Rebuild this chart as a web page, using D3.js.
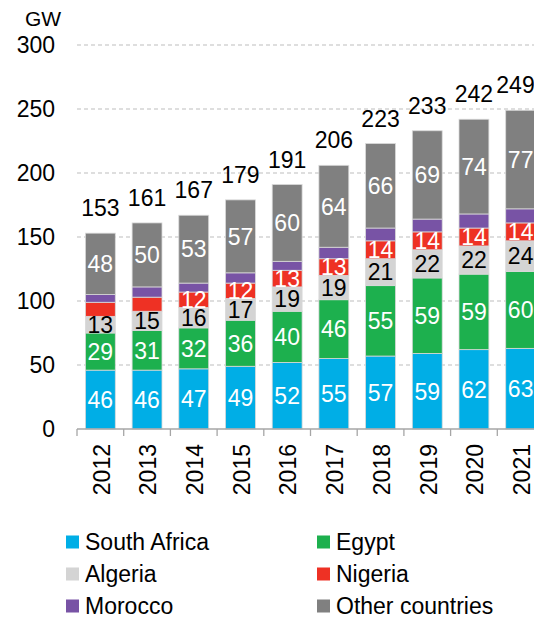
<!DOCTYPE html>
<html>
<head>
<meta charset="utf-8">
<script src="https://cdn.jsdelivr.net/npm/d3@7"></script>
<style>
  body { margin: 0; background: #fff; }
  svg { font-family: "Liberation Sans", Arial, sans-serif; display: block; }
</style>
</head>
<body>
<script>
var years        = ['2012','2013','2014','2015','2016','2017','2018','2019','2020','2021'];
var southAfrica  = [46, 46, 47, 49, 52, 55, 57, 59, 62, 63];
var egypt        = [29, 31, 32, 36, 40, 46, 55, 59, 59, 60];
var algeria      = [13, 15, 16, 17, 19, 19, 21, 22, 22, 24];
var nigeria      = [11, 11, 12, 12, 13, 13, 14, 14, 14, 14];
var morocco      = [6, 8, 7, 8, 7, 9, 10, 10, 11, 11];
var others       = [48, 50, 53, 57, 60, 64, 66, 69, 74, 77];
var totals       = [153, 161, 167, 179, 191, 206, 223, 233, 242, 249];
var yTicks       = [0, 50, 100, 150, 200, 250, 300];

var series = [
  {name: 'South Africa',    values: southAfrica, color: '#00aee6', text: '#fff', label: true},
  {name: 'Egypt',           values: egypt,       color: '#1db04e', text: '#fff', label: true},
  {name: 'Algeria',         values: algeria,     color: '#d4d4d4', text: '#000', label: true},
  {name: 'Nigeria',         values: nigeria,     color: '#ee3124', text: '#fff', label: true, minLabel: 12},
  {name: 'Morocco',         values: morocco,     color: '#7853a5', text: '#fff', label: false},
  {name: 'Other countries', values: others,      color: '#808080', text: '#fff', label: true}
];

var W = 534, H = 618;
var svg = d3.select('body').append('svg')
  .attr('width', W)
  .attr('height', H);

var x = d3.scaleBand().domain(years).range([77, 544]).paddingInner(0.36).paddingOuter(0.18);
var y = d3.scaleLinear().domain([0, 300]).range([429, 45]);

// grid
svg.append('g')
  .selectAll('line')
  .data(yTicks.filter(function(d) { return d > 0; }))
  .enter().append('line')
    .attr('x1', 77).attr('x2', W)
    .attr('y1', function(d) { return y(d); })
    .attr('y2', function(d) { return y(d); })
    .attr('stroke', '#bdbdbd')
    .attr('stroke-width', 1)
    .attr('stroke-dasharray', '4,3');

// y tick labels
svg.append('g')
  .selectAll('text')
  .data(yTicks)
  .enter().append('text')
    .attr('x', 55)
    .attr('y', function(d) { return y(d); })
    .attr('dy', '0.35em')
    .attr('text-anchor', 'end')
    .style('font-size', '23px')
    .text(function(d) { return d; });

svg.append('text')
  .attr('x', 25).attr('y', 26)
  .style('font-size', '21px')
  .text('GW');

// stacked bars
var rows = years.map(function(yr, i) {
  var r = {year: yr};
  series.forEach(function(s) { r[s.name] = s.values[i]; });
  return r;
});
var stack = d3.stack().keys(series.map(function(s) { return s.name; }));
var layers = stack(rows);

var layerG = svg.append('g')
  .selectAll('g')
  .data(layers)
  .enter().append('g')
    .attr('fill', function(d, i) { return series[i].color; });

layerG.selectAll('rect')
  .data(function(d) { return d; })
  .enter().append('rect')
    .attr('x', function(d) { return x(d.data.year); })
    .attr('width', x.bandwidth())
    .attr('y', function(d) { return y(d[1]); })
    .attr('height', function(d) { return y(d[0]) - y(d[1]); })
    .attr('stroke', '#d9d9d9')
    .attr('stroke-width', 0.8);

// segment labels
layers.forEach(function(layer, i) {
  var s = series[i];
  if (!s.label) return;
  svg.append('g')
    .selectAll('text')
    .data(layer.filter(function(d, j) { return !s.minLabel || s.values[j] >= s.minLabel; }))
    .enter().append('text')
      .attr('x', function(d) { return x(d.data.year) + x.bandwidth() / 2; })
      .attr('y', function(d) { return (y(d[0]) + y(d[1])) / 2; })
      .attr('dy', '0.36em')
      .attr('text-anchor', 'middle')
      .attr('fill', s.text)
      .style('font-size', '23px')
      .text(function(d) { return d[1] - d[0]; });
});

// totals
svg.append('g')
  .selectAll('text')
  .data(totals)
  .enter().append('text')
    .attr('x', function(d, i) { return Math.min(x(years[i]) + x.bandwidth() / 2, 535 - 19.5); })
    .attr('y', function(d) { return y(d) - 17; })
    .attr('text-anchor', 'middle')
    .style('font-size', '23px')
    .text(function(d) { return d; });

// x axis
var axisG = svg.append('g').attr('stroke', '#a6a6a6').attr('stroke-width', 1.3);
axisG.append('line')
  .attr('x1', 77).attr('x2', W)
  .attr('y1', y(0)).attr('y2', y(0));
axisG.selectAll('line.tick')
  .data(d3.range(years.length + 1))
  .enter().append('line')
    .attr('class', 'tick')
    .attr('x1', function(i) { return 77 + i * x.step(); })
    .attr('x2', function(i) { return 77 + i * x.step(); })
    .attr('y1', y(0)).attr('y2', y(0) + 7);

svg.append('g')
  .selectAll('text')
  .data(years)
  .enter().append('text')
    .attr('transform', function(d) {
      return 'translate(' + (x(d) + x.bandwidth() / 2 + 1) + ',' + 444 + ') rotate(-90)';
    })
    .attr('text-anchor', 'end')
    .attr('dy', '0.36em')
    .style('font-size', '23px')
    .text(function(d) { return d; });

// legend
var legend = svg.append('g')
  .selectAll('g')
  .data(series)
  .enter().append('g')
    .attr('transform', function(d, i) {
      return 'translate(' + (i % 2 === 0 ? 66 : 317) + ',' + (542 + Math.floor(i / 2) * 32) + ')';
    });
legend.append('rect')
  .attr('x', 0).attr('y', -6.5)
  .attr('width', 13).attr('height', 13)
  .attr('fill', function(d) { return d.color; });
legend.append('text')
  .attr('x', 19)
  .attr('dy', '0.36em')
  .style('font-size', '23px')
  .text(function(d) { return d.name; });
</script>
</body>
</html>
